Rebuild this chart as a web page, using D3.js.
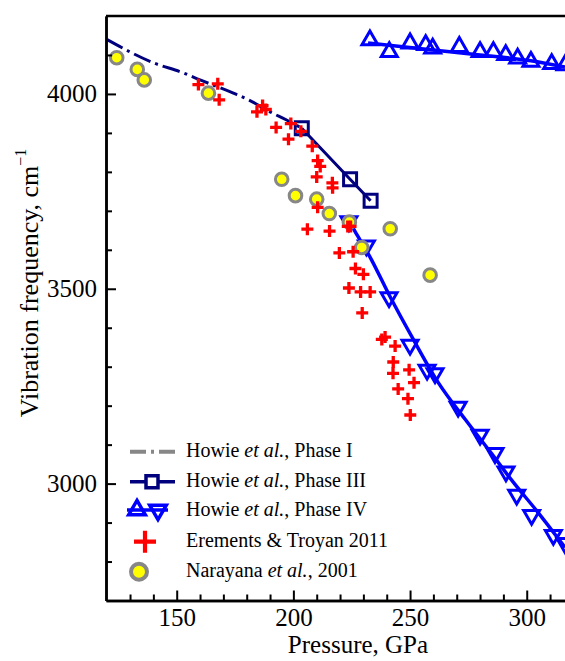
<!DOCTYPE html>
<html><head><meta charset="utf-8">
<script src="https://cdn.jsdelivr.net/npm/d3@7"></script>
<style>body{margin:0;background:#fff;}</style>
</head><body>
<script>
// ---------- data (pressure GPa, frequency cm^-1) ----------
const phase1Line = [[120.0,4140],[140.0,4080],[152.8,4054],[160.0,4036],[174.3,4002],[181.4,3983],[190.0,3954],[197.1,3933],[203.6,3912]];
const phase3 = [[203.6,3912],[224.3,3781],[233.1,3726]];
const phase4Up = [[232.8,4138],[241.1,4108],[250.0,4130],[256.7,4126],[259.7,4117],[271.1,4121],[280.0,4108],[285.7,4108],[291.0,4100],[296.1,4091],[301.8,4083],[310.7,4077],[316.4,4074]];
const phase4UpFit = [[232.0,4131],[259.8,4113],[280.0,4100],[301.8,4085],[316.4,4069]];
const phase4Down = [[223.8,3673],[231.3,3611],[241.0,3478],[250.0,3356],[257.3,3292],[260.7,3283],[270.6,3197],[280.0,3125],[286.4,3078],[291.1,3031],[295.7,2971],[302.1,2919],[311.4,2868],[316.4,2847]];
const phase4DownFit = [[223.8,3674],[226.4,3647],[232.8,3582],[241.4,3480],[251.4,3370],[262.1,3259],[273.6,3165],[284.3,3082],[294.3,3003],[304.3,2930],[316.4,2836]];
const eremets = [[159.3,4024],[167.6,4026],[168.2,3985],[186.8,3970],[184.4,3954],[188.2,3960],[192.6,3914],[198.9,3924],[197.9,3884],[203.2,3904],[208.1,3866],[210.4,3829],[211.5,3814],[210.0,3787],[216.7,3772],[216.8,3759],[210.4,3709],[206.0,3653],[215.5,3648],[223.3,3660],[224.5,3660],[219.7,3592],[225.6,3595],[226.6,3552],[230.0,3537],[223.8,3502],[228.8,3492],[232.9,3492],[229.5,3438],[237.9,3370],[239.3,3376],[243.6,3353],[242.8,3312],[242.7,3283],[249.6,3292],[251.7,3259],[244.9,3243],[249.1,3218],[250.1,3176]];
const narayana = [[124.3,4093],[133.1,4063],[136.1,4036],[163.6,4002],[195.0,3781],[200.9,3739],[210.0,3730],[215.4,3693],[224.0,3671],[229.3,3606],[241.5,3654],[258.6,3535]];
const xMajor = [150,200,250,300];
const xMinor = [130,140,160,170,180,190,210,220,230,240,260,270,280,290,310];
const yMajor = [3000,3500,4000];
const yMinor = [2800,2900,3100,3200,3300,3400,3600,3700,3800,3900,4100];
const legendLabels = [
  ["Howie ","et al.",", Phase I"],
  ["Howie ","et al.",", Phase III"],
  ["Howie ","et al.",", Phase IV"],
  ["Erements & Troyan 2011","",""],
  ["Narayana ","et al.",", 2001"]
];

const FONT = '"Liberation Serif", "Times New Roman", Times, serif';
const NAVY="#00007f", BLUE="#0000ff", RED="#ff0000", GRAY="#878787", YEL="#ffff00";
const W=565,H=661;
const x = d3.scaleLinear().domain([119.7,316.4]).range([106,565]);
const y = d3.scaleLinear().domain([2700,4200]).range([600.5,16]);

const svg = d3.select("body").append("svg").attr("width",W).attr("height",H).style("font-family",FONT);
svg.append("defs").append("clipPath").attr("id","clip").append("rect")
  .attr("x",x.range()[0]).attr("y",y.range()[1]).attr("width",x.range()[1]-x.range()[0]).attr("height",y.range()[0]-y.range()[1]);
const g = svg.append("g").attr("clip-path","url(#clip)");

const line = d3.line().x(d=>x(d[0])).y(d=>y(d[1]));
const smooth = d3.line().x(d=>x(d[0])).y(d=>y(d[1])).curve(d3.curveMonotoneX);

// Phase I dash-dot
g.append("path").attr("d",smooth(phase1Line)).attr("fill","none").attr("stroke",NAVY)
  .attr("stroke-width",3).attr("stroke-dasharray","18,5,3,5");
// Phase III
g.append("path").attr("d",line(phase3)).attr("fill","none").attr("stroke",NAVY).attr("stroke-width",3);
g.selectAll(".sq").data(phase3).join("path")
  .attr("transform",d=>`translate(${x(d[0])},${y(d[1])})`)
  .attr("d",d3.symbol(d3.symbolSquare,169)()).attr("fill","none").attr("stroke",NAVY).attr("stroke-width",3);
// Phase IV
g.append("path").attr("d",smooth(phase4UpFit)).attr("fill","none").attr("stroke",BLUE).attr("stroke-width",3.5);
g.append("path").attr("d",smooth(phase4DownFit)).attr("fill","none").attr("stroke",BLUE).attr("stroke-width",3.5);
const tri = d3.symbol(d3.symbolTriangle,110)();
g.selectAll(".tu").data(phase4Up).join("path")
  .attr("transform",d=>`translate(${x(d[0])},${y(d[1])})`)
  .attr("d",tri).attr("fill","none").attr("stroke",BLUE).attr("stroke-width",3);
g.selectAll(".td").data(phase4Down).join("path")
  .attr("transform",d=>`translate(${x(d[0])},${y(d[1])}) rotate(180)`)
  .attr("d",tri).attr("fill","none").attr("stroke",BLUE).attr("stroke-width",3);
// Narayana
g.selectAll(".ci").data(narayana).join("circle")
  .attr("cx",d=>x(d[0])).attr("cy",d=>y(d[1])).attr("r",6.3)
  .attr("fill",YEL).attr("stroke",GRAY).attr("stroke-width",3);
// Eremets crosses
const crossPath = s => `M${-s},0H${s}M0,${-s}V${s}`;
g.selectAll(".cr").data(eremets).join("path")
  .attr("transform",d=>`translate(${x(d[0])},${y(d[1])})`)
  .attr("d",crossPath(6)).attr("stroke",RED).attr("stroke-width",3.3).attr("fill","none");

// ---------- axes ----------
const axStyle = sel => { sel.attr("font-family",null).attr("font-size",null);
  sel.select(".domain").attr("stroke","#000").attr("stroke-width",2.5);
  sel.selectAll(".tick line").attr("stroke","#000").attr("stroke-width",2);
  sel.selectAll("text").style("font-size","25px").style("font-family",FONT).attr("fill","#000"); };
const yb = y.range()[0];
svg.append("g").attr("transform",`translate(0,${yb})`)
  .call(d3.axisBottom(x).tickValues(xMinor).tickSizeInner(-6).tickSizeOuter(0).tickFormat(""))
  .call(axStyle);
svg.append("g").attr("transform",`translate(0,${yb})`)
  .call(d3.axisBottom(x).tickValues(xMajor).tickSizeInner(-10).tickSizeOuter(0).tickPadding(8).tickFormat(d3.format("d")))
  .call(axStyle);
svg.append("g").attr("transform",`translate(${x.range()[0]},0)`)
  .call(d3.axisLeft(y).tickValues(yMinor).tickSizeInner(-6).tickSizeOuter(0).tickFormat(""))
  .call(axStyle);
svg.append("g").attr("transform",`translate(${x.range()[0]},0)`)
  .call(d3.axisLeft(y).tickValues(yMajor).tickSizeInner(-10).tickSizeOuter(0).tickPadding(9).tickFormat(d3.format("d")))
  .call(axStyle);
// top frame
svg.append("line").attr("x1",x.range()[0]).attr("x2",x.range()[1]).attr("y1",y.range()[1]).attr("y2",y.range()[1])
  .attr("stroke","#000").attr("stroke-width",2.5);

// axis titles
svg.append("text").attr("x",358).attr("y",653).attr("text-anchor","middle").style("font-size","25px").style("font-family",FONT).text("Pressure, GPa");
const yt = svg.append("text").attr("transform","translate(38,283) rotate(-90)").attr("text-anchor","middle").style("font-size","26px").style("font-family",FONT);
yt.append("tspan").text("Vibration frequency, cm");
yt.append("tspan").style("font-size","16px").attr("dy",-12).text("\u22121");

// ---------- legend ----------
const lg = svg.append("g");
const rowY = [451.7,481.7,510,541.7,571.7];
// row 1: gray dash-dot
lg.append("path").attr("d",`M130,${rowY[0]}H175`).attr("stroke",GRAY).attr("stroke-width",4).attr("stroke-dasharray","16,5,3,5");
// row 2
lg.append("path").attr("d",`M130,${rowY[1]}H175`).attr("stroke",NAVY).attr("stroke-width",3.5);
lg.append("path").attr("transform",`translate(152,${rowY[1]})`).attr("d",d3.symbol(d3.symbolSquare,144)())
  .attr("fill","#fff").attr("stroke",NAVY).attr("stroke-width",3.5);
// row 3
lg.append("path").attr("d",`M127,${rowY[2]}H168`).attr("stroke",BLUE).attr("stroke-width",3.5);
lg.append("path").attr("transform",`translate(137,${rowY[2]})`).attr("d",d3.symbol(d3.symbolTriangle,120)())
  .attr("fill","none").attr("stroke",BLUE).attr("stroke-width",3.5);
lg.append("path").attr("transform",`translate(158,${rowY[2]}) rotate(180)`).attr("d",d3.symbol(d3.symbolTriangle,120)())
  .attr("fill","none").attr("stroke",BLUE).attr("stroke-width",3.5);
// row 4
lg.append("path").attr("transform",`translate(145,${rowY[3]})`).attr("d",crossPath(11)).attr("stroke",RED).attr("stroke-width",4.2);
// row 5
lg.append("circle").attr("cx",139).attr("cy",rowY[4]).attr("r",8).attr("fill",YEL).attr("stroke",GRAY).attr("stroke-width",4);
legendLabels.forEach((l,i)=>{
  const t = lg.append("text").attr("x",186).attr("y",rowY[i]+5.5).style("font-size","20px").style("font-family",FONT).attr("fill","#000");
  t.append("tspan").text(l[0]);
  if(l[1]) t.append("tspan").attr("font-style","italic").text(l[1]);
  if(l[2]) t.append("tspan").text(l[2]);
});
</script>
</body></html>
